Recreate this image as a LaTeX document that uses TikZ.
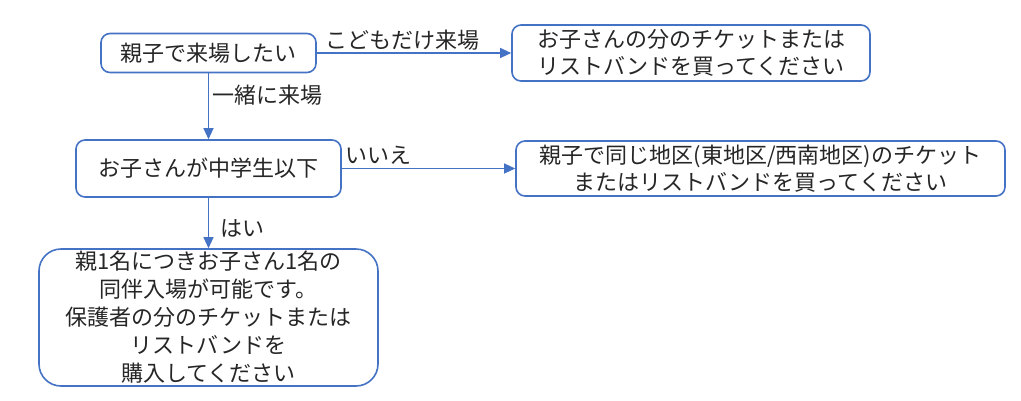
\documentclass[tikz,border=0pt]{standalone}
\usepackage{fontspec}
\setmainfont{Noto Sans CJK JP}
\usetikzlibrary{arrows.meta}
\definecolor{lineblue}{HTML}{4472C4}
\definecolor{txt}{HTML}{262626}
\tikzset{
  flowbox/.style={draw=lineblue, line width=1.6pt, rounded corners=9pt, fill=white,
    align=center, inner sep=0pt, text=txt,
    font=\fontsize{22}{27}\selectfont},
  flowarrow/.style={draw=lineblue, line width=1.1pt, -{Triangle[length=11pt,width=10pt]}},
  lbl/.style={text=txt, font=\fontsize{22}{27}\selectfont, inner sep=0pt}
}
\begin{document}
\begin{tikzpicture}[x=1pt,y=-1pt]
\useasboundingbox (0,0) rectangle (1021,400);
\node[flowbox, minimum width=215pt, minimum height=39pt] (a) at (208.5,53) {親子で来場したい};
\node[flowbox, minimum width=358pt, minimum height=56pt] (b) at (691,53) {お子さんの分のチケットまたは\\リストバンドを買ってください};
\node[flowbox, minimum width=265pt, minimum height=57pt] (c) at (208.5,168.5) {お子さんが中学生以下};
\node[flowbox, minimum width=489pt, minimum height=55pt] (d) at (760.5,168.5) {親子で同じ地区(東地区/西南地区)のチケット\\またはリストバンドを買ってください};
\node[flowbox, rounded corners=22pt, minimum width=339pt, minimum height=137pt, font=\fontsize{22}{28}\selectfont] (e) at (208.5,317.5) {親1名につきお子さん1名の\\同伴入場が可能です。\\保護者の分のチケットまたは\\リストバンドを\\購入してください};
\draw[flowarrow] (a.east) -- (b.west);
\draw[flowarrow] (a.south) -- (c.north);
\draw[flowarrow] (c.east) -- (d.west);
\draw[flowarrow] (c.south) -- (e.north);
\node[lbl, anchor=west] (l1) at (325,40) {こどもだけ来場};
\node[lbl, anchor=west] (l2) at (212,95) {一緒に来場};
\node[lbl, anchor=west] (l3) at (345,155) {いいえ};
\node[lbl, anchor=west] (l4) at (220,228) {はい};
\end{tikzpicture}
\end{document}
